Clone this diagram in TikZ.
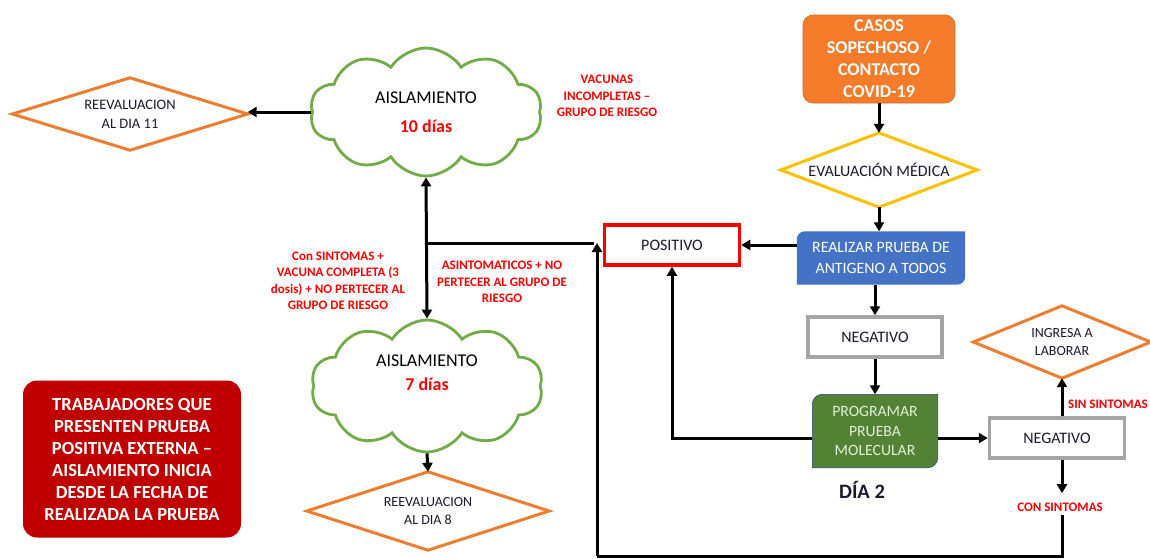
\documentclass[tikz,border=0pt]{standalone}
\usepackage{fontspec}
\setmainfont{Carlito}
\usetikzlibrary{shapes.geometric,shapes.symbols,arrows.meta}
\pgfdeclarelayer{background}
\pgfsetlayers{background,main}
\definecolor{orangeF}{HTML}{F47B2A}
\definecolor{orangeD}{HTML}{ED7D31}
\definecolor{yellowD}{HTML}{FFC000}
\definecolor{blueB}{HTML}{4472C4}
\definecolor{greenB}{HTML}{548235}
\definecolor{greenT}{HTML}{E2EFD9}
\definecolor{grayB}{HTML}{A5A5A5}
\definecolor{cloudG}{HTML}{70AD47}
\definecolor{darkR}{HTML}{C00000}
\definecolor{txt}{HTML}{1A1A2E}
\begin{document}
\begin{tikzpicture}[x=1pt,y=1pt,
  font=\fontsize{16}{19}\selectfont,
  arr/.style={line width=3pt,-{Triangle[width=10pt,length=9pt]}},
  dblarr/.style={line width=3pt,{Triangle[width=10pt,length=9pt]}-{Triangle[width=10pt,length=9pt]}},
  ln/.style={line width=3pt},
  diatext/.style={rectangle,inner sep=0pt,align=center,text=txt,font=\fontsize{14.5}{19}\selectfont},
  diaedge/.style={line width=3pt,line join=miter},
  cld/.style={cloud,cloud puffs=10,cloud puff arc=115,cloud ignores aspect,draw=cloudG,line width=2.8pt,
    inner sep=0pt,align=center,fill=white},
  lbl/.style={text=red,font=\bfseries\fontsize{13}{16.5}\selectfont,align=center},
  plainbox/.style={rectangle,line width=3.5pt,fill=white,text=txt,inner sep=0pt}
]
\useasboundingbox (0,0) rectangle (1150,-558);

% ---- nodes ----
\node[diatext,minimum width=235pt,minimum height=72pt] (d11) at (130,-114) {REEVALUACION\\AL DIA 11};
\node[cld,minimum width=232pt,minimum height=128pt] (c1) at (426,-112)
  {\fontsize{18}{21}\selectfont AISLAMIENTO\\[10pt]{\bfseries\color{red}\fontsize{18}{21}\selectfont 10 días}};
\node[lbl] (vac) at (607,-96) {VACUNAS\\INCOMPLETAS –\\GRUPO DE RIESGO};

\node[rectangle,rounded corners=10pt,fill=orangeF,draw=orangeD!85!black,line width=0.6pt,
  minimum width=152pt,minimum height=88pt,text=white,align=center,
  font=\bfseries\fontsize{18}{22}\selectfont] (casos) at (879,-59)
  {CASOS\\SOPECHOSO /\\CONTACTO\\COVID-19};
\node[diatext,minimum width=196pt,minimum height=74pt,font=\fontsize{16}{19}\selectfont] (eval) at (879,-170) {EVALUACIÓN MÉDICA};

\node[plainbox,draw=red,minimum width=135pt,minimum height=40pt] (pos) at (672,-245) {POSITIVO};
\node[rectangle,minimum width=168pt,minimum height=53pt,inner sep=0pt,text=white,align=center,
  font=\fontsize{15.8}{21}\selectfont] (real) at (881,-258) {REALIZAR PRUEBA DE\\ANTIGENO A TODOS};
\node[plainbox,draw=grayB,minimum width=134pt,minimum height=40pt] (neg1) at (875,-337) {NEGATIVO};
\node[rectangle,minimum width=125pt,minimum height=73pt,inner sep=0pt,text=greenT,align=center,
  font=\fontsize{15.7}{19.5}\selectfont] (prog) at (875,-431) {PROGRAMAR\\PRUEBA\\MOLECULAR};
\node[font=\bfseries\fontsize{20.5}{24}\selectfont,text=txt] (dia2) at (862,-490) {DÍA 2};
\node[plainbox,draw=grayB,minimum width=135pt,minimum height=40pt] (neg2) at (1057,-438) {NEGATIVO};
\node[diatext,minimum width=177pt,minimum height=72pt,font=\fontsize{14}{18}\selectfont] (ing) at (1062,-342) {INGRESA A\\LABORAR};
\node[lbl] (sin) at (1108,-404) {SIN SINTOMAS};
\node[lbl] (con) at (1060,-507) {CON SINTOMAS};

\node[cld,minimum width=232pt,minimum height=132pt] (c2) at (427,-386)
  {\fontsize{18}{21}\selectfont AISLAMIENTO\\[5pt]{\bfseries\color{red}\fontsize{18}{21}\selectfont 7 días}\\[8pt]};
\node[diatext,minimum width=242pt,minimum height=78pt,font=\fontsize{14}{18.5}\selectfont] (d8) at (428,-511) {REEVALUACION\\AL DIA 8};
\node[rectangle,rounded corners=14pt,fill=darkR,minimum width=218pt,minimum height=157pt,
  text=white,align=center,font=\bfseries\fontsize{18.5}{22}\selectfont] (trab) at (132,-459)
  {TRABAJADORES QUE\\PRESENTEN PRUEBA\\POSITIVA EXTERNA –\\AISLAMIENTO INICIA\\DESDE LA FECHA DE\\REALIZADA LA PRUEBA};

\node[lbl] (lcon) at (338,-281) {Con SINTOMAS +\\VACUNA COMPLETA (3\\dosis) + NO PERTECER AL\\GRUPO DE RIESGO};
\node[lbl] (lasin) at (502,-282) {ASINTOMATICOS + NO\\PERTECER AL GRUPO DE\\RIESGO};

% ---- diamond outlines ----
\foreach \n/\c in {d11/orangeD,eval/yellowD,ing/orangeD,d8/orangeD}
  \draw[diaedge,draw=\c] (\n.north) -- (\n.east) -- (\n.south) -- (\n.west) -- cycle;

% ---- special-corner boxes ----
\begin{pgfonlayer}{background}
\fill[blueB] ([yshift=-8pt]real.north west) arc[start angle=180,end angle=90,radius=8pt]
  -- (real.north east) -- ([yshift=8pt]real.south east) arc[start angle=0,end angle=-90,radius=8pt]
  -- (real.south west) -- cycle;
\filldraw[fill=greenB,draw=blueB!60!black,line width=0.6pt]
  ([yshift=-10pt]prog.north west) arc[start angle=180,end angle=90,radius=10pt]
  -- (prog.north east) -- ([yshift=10pt]prog.south east) arc[start angle=0,end angle=-90,radius=10pt]
  -- (prog.south west) -- cycle;
\end{pgfonlayer}

% ---- connectors ----
\coordinate (jn) at (597,-243);
\coordinate (kn) at (427,-243);
\coordinate (bl) at (597,-556);
\coordinate (br) at (1062,-556);

\draw[arr] (c1.west) -- (c1.west -| d11.east);
\draw[arr] (casos.south) -- (eval.north);
\draw[arr] (eval.south) -- (real.north -| eval.south);
\draw[arr] (real.west |- pos.east) -- (pos.east);
\draw[arr] (real.south -| neg1.north) -- (neg1.north);
\draw[arr] (neg1.south -| prog.north) -- (prog.north);
\draw[arr] (prog.east |- neg2.west) -- (neg2.west);
\draw[arr] (prog.west |- neg2.west) -| (pos.south);
\draw[arr] (neg2.north -| ing.south) -- (ing.south);
\draw[arr] (neg2.south -| ing.south) -- ([yshift=6pt]con.north -| ing.south);
\draw[ln] (con.south -| br) -- (br) -- (bl);
\draw[arr] (bl) -- (jn);
\draw[ln] (kn) -- ([xshift=-3pt]jn);
\draw[dblarr] (c1.south) -- (c2.north);
\draw[arr] (c2.south) -- (d8.north);
\end{tikzpicture}
\end{document}
